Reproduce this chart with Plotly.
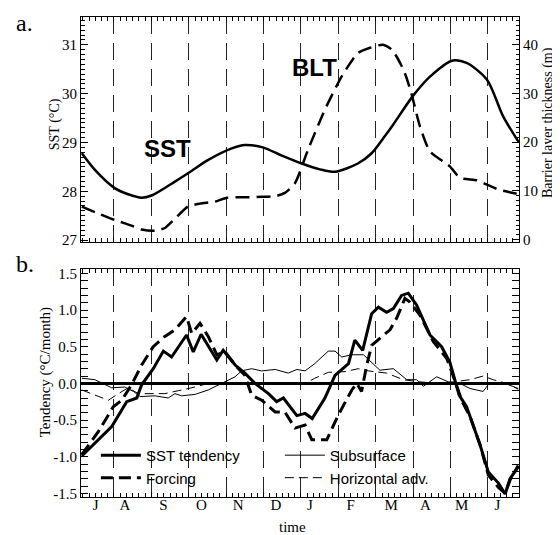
import plotly.graph_objects as go

# ---------------- data (x = months since 1 July; integers = month boundaries) -------------
month_bounds = [1, 2, 3, 4, 5, 6, 7, 8, 9, 10, 11]
month_label_pos = [0.51, 1.29, 2.32, 3.34, 4.32, 5.33, 6.24, 7.33, 8.41, 9.33, 10.30, 11.25]
month_labels = ["J", "A", "S", "O", "N", "D", "J", "F", "M", "A", "M", "J"]

# panel a: SST (degC)
sst_x = [0.14, 0.49, 1.03, 1.38, 1.74, 2.02, 2.63, 2.98, 3.51, 4.15, 4.50, 4.98, 5.49,
         6.02, 6.51, 6.91, 7.52, 7.89, 8.25, 8.46, 9.00, 9.45, 10.06, 10.43, 10.97, 11.41, 11.83]
sst = [28.78, 28.44, 28.06, 27.94, 27.87, 27.92, 28.20, 28.37, 28.64, 28.88, 28.95, 28.90, 28.73,
       28.57, 28.45, 28.40, 28.57, 28.78, 29.14, 29.36, 29.96, 30.35, 30.68, 30.63, 30.29, 29.53, 29.00]

# panel a: barrier layer thickness (m)
blt_x = [0.14, 0.63, 1.03, 1.43, 1.74, 2.10, 2.36, 2.63, 2.98, 3.30, 3.70, 4.02, 4.50, 4.96,
         5.35, 5.57, 5.84, 6.19, 6.64, 7.09, 7.52, 7.85, 8.19, 8.43, 8.65, 8.81, 8.96, 9.18,
         9.45, 9.98, 10.25, 10.70, 10.97, 11.32, 11.67, 11.83]
blt = [6.8, 5.2, 4.0, 3.0, 2.1, 1.85, 2.4, 4.3, 6.8, 7.4, 7.8, 8.6, 8.7, 8.8,
       9.0, 9.6, 11.6, 18.5, 26.7, 33.5, 38.3, 39.4, 40.0, 39.0, 36.3, 33.5, 29.8, 23.3,
       18.1, 15.05, 12.7, 12.2, 11.3, 10.2, 9.6, 9.3]

# panel b: tendency terms (degC/month)
tend_x = [0.14, 0.94, 1.34, 1.61, 1.74, 2.05, 2.32, 2.54, 2.94, 3.12, 3.33, 3.75, 3.92, 4.24,
          4.50, 4.77, 5.13, 5.35, 5.53, 5.89, 6.11, 6.30, 6.64, 6.91, 7.27, 7.44, 7.65, 7.89,
          8.07, 8.29, 8.47, 8.69, 8.87, 9.09, 9.45, 9.76, 9.98, 10.14, 10.23, 10.43, 10.79,
          11.01, 11.28, 11.46, 11.59, 11.81]
sst_tend = [-0.99, -0.59, -0.25, -0.20, -0.02, 0.20, 0.44, 0.36, 0.66, 0.43, 0.67, 0.32, 0.45, 0.25,
            0.14, 0.00, -0.14, -0.25, -0.20, -0.44, -0.41, -0.48, -0.20, 0.11, 0.27, 0.59, 0.45, 0.95,
            1.04, 0.97, 1.02, 1.20, 1.23, 1.07, 0.66, 0.50, 0.29, 0.00, -0.16, -0.32, -0.84,
            -1.21, -1.36, -1.51, -1.30, -1.14]

forc_x = [0.14, 0.58, 0.98, 1.21, 1.47, 1.74, 2.05, 2.36, 2.63, 2.94, 3.08, 3.30, 3.52, 3.75,
          3.97, 4.24, 4.50, 4.68, 4.95, 5.31, 5.57, 5.84, 6.11, 6.29, 6.69, 7.00, 7.36, 7.49,
          7.62, 7.76, 7.89, 8.25, 8.38, 8.56, 8.78, 8.91, 9.18, 9.54, 9.90, 10.14, 10.31, 10.52,
          10.79, 11.01, 11.28, 11.46, 11.59, 11.81]
forcing = [-0.97, -0.66, -0.32, -0.23, -0.02, 0.25, 0.50, 0.64, 0.73, 0.91, 0.68, 0.82, 0.64, 0.39,
           0.43, 0.25, 0.11, -0.16, -0.23, -0.39, -0.39, -0.61, -0.57, -0.77, -0.77, -0.43, -0.09, 0.00,
           -0.11, 0.25, 0.52, 0.68, 0.73, 0.89, 1.16, 1.11, 0.93, 0.57, 0.34, 0.00, -0.25, -0.45,
           -0.84, -1.25, -1.42, -1.50, -1.32, -1.12]

subs_x = [0.14, 0.49, 0.94, 1.29, 1.52, 1.70, 2.10, 2.45, 2.63, 2.81, 3.17, 3.52, 3.88, 4.24,
          4.41, 4.68, 4.95, 5.31, 5.66, 5.89, 6.11, 6.37, 6.73, 6.91, 7.09, 7.36, 7.67, 7.89,
          8.11, 8.47, 8.83, 9.09, 9.27, 9.63, 9.94, 10.25, 10.52, 10.87, 11.05, 11.41, 11.81]
subsurface = [0.07, 0.05, -0.06, -0.05, -0.11, -0.18, -0.17, -0.20, -0.14, -0.17, -0.15, -0.09, 0.00, 0.09,
              0.17, 0.20, 0.17, 0.19, 0.14, 0.19, 0.17, 0.27, 0.44, 0.44, 0.36, 0.39, 0.39, 0.29,
              0.18, 0.20, 0.05, 0.05, -0.04, 0.09, 0.02, 0.00, -0.07, -0.11, 0.01, 0.01, -0.07]

hadv_x = [0.14, 0.49, 0.85, 1.12, 1.38, 1.65, 1.92, 2.36, 2.72, 3.08, 3.52, 3.88, 4.41, 4.86,
          5.31, 6.11, 6.37, 6.73, 7.18, 7.53, 7.80, 8.29, 8.74, 9.18, 9.63, 10.07, 10.52, 10.87,
          11.14, 11.50, 11.81]
hadv = [-0.09, -0.16, -0.23, -0.14, -0.06, -0.14, -0.14, -0.14, -0.10, -0.06, 0.00, 0.01, 0.01, 0.00,
        -0.01, 0.00, 0.07, 0.15, 0.16, 0.20, 0.17, 0.14, 0.05, 0.02, 0.00, 0.02, 0.05, 0.10,
        0.05, 0.00, -0.08]

# ---------------- figure -------------
X_RANGE = [0.118, 11.83]
SERIF = "Liberation Serif, Times New Roman, serif"
SANS = "Liberation Sans, Arial, sans-serif"
tickfont = dict(family=SERIF, size=15, color="black")
GRID_DASH = "17px,9px"

fig = go.Figure()

fig.add_trace(go.Scatter(x=sst_x, y=sst, mode="lines", line=dict(color="black", width=2.5, shape="spline", smoothing=0.8),
                         xaxis="x", yaxis="y", showlegend=False, name="SST"))
fig.add_trace(go.Scatter(x=blt_x, y=blt, mode="lines", line=dict(color="black", width=2.5, dash="14px,7px", shape="spline", smoothing=0.6),
                         xaxis="x", yaxis="y3", showlegend=False, name="BLT"))

fig.add_trace(go.Scatter(x=tend_x, y=sst_tend, mode="lines", name="SST tendency", line=dict(color="black", width=3),
                         xaxis="x2", yaxis="y2", legend="legend"))
fig.add_trace(go.Scatter(x=forc_x, y=forcing, mode="lines", name="Forcing", line=dict(color="black", width=3, dash="12px,6px"),
                         xaxis="x2", yaxis="y2", legend="legend"))
fig.add_trace(go.Scatter(x=subs_x, y=subsurface, mode="lines", name="Subsurface", line=dict(color="black", width=1),
                         xaxis="x2", yaxis="y2", legend="legend2"))
fig.add_trace(go.Scatter(x=hadv_x, y=hadv, mode="lines", name="Horizontal adv.", line=dict(color="black", width=1, dash="9px,5px"),
                         xaxis="x2", yaxis="y2", legend="legend2"))
# carrier for the month-label axis
fig.add_trace(go.Scatter(x=month_label_pos, y=[None] * len(month_label_pos), mode="markers", marker=dict(opacity=0),
                         xaxis="x3", yaxis="y2", showlegend=False, hoverinfo="skip"))

bound_axis = dict(range=X_RANGE, tickvals=month_bounds, showticklabels=False, showgrid=True,
                  gridcolor="#222222", gridwidth=1, griddash=GRID_DASH, ticks="inside", ticklen=4,
                  tickcolor="black", minor=dict(dtick=1 / 6, tick0=0, ticks="inside", ticklen=4, tickcolor="black"),
                  showline=True, linecolor="black", linewidth=1, mirror="allticks", zeroline=False,
                  automargin=False)

title_font = dict(family=SERIF, size=14, color="black")

# page body has an 8px default margin: figure is 552x527 so the plot lands where the reference has it
fig.update_layout(
    width=552, height=527,
    margin=dict(l=73, r=41, t=9, b=38, autoexpand=False),
    font=dict(family=SERIF, color="black"),
    paper_bgcolor="white", plot_bgcolor="white",
    xaxis=dict(domain=[0, 1], anchor="y", **bound_axis),
    xaxis2=dict(domain=[0, 1], anchor="y2", **bound_axis),
    xaxis3=dict(overlaying="x2", anchor="y2", side="bottom", range=X_RANGE, tickvals=month_label_pos,
                ticktext=month_labels, ticks="", showgrid=False, showline=False, zeroline=False,
                automargin=False, ticklabelstandoff=-3, tickfont=tickfont),
    yaxis=dict(domain=[0.532, 1], anchor="x", range=[26.97, 31.57], tickvals=[27, 28, 29, 30, 31],
               ticks="inside", ticklen=7, tickcolor="black",
               minor=dict(dtick=0.1, ticks="inside", ticklen=3.5, tickcolor="black"),
               showline=True, linecolor="black", linewidth=1, showgrid=False, zeroline=False,
               automargin=False, tickfont=tickfont),
    yaxis3=dict(overlaying="y", anchor="x", side="right", range=[-0.4, 45.7], tickvals=[0, 10, 20, 30, 40],
                ticks="inside", ticklen=7, tickcolor="black",
                minor=dict(dtick=1, ticks="inside", ticklen=3.5, tickcolor="black"),
                showline=True, linecolor="black", linewidth=1, showgrid=False, zeroline=False,
                automargin=False, tickfont=tickfont),
    yaxis2=dict(domain=[0, 0.475], anchor="x2", range=[-1.55, 1.56],
                tickvals=[-1.5, -1.0, -0.5, 0.0, 0.5, 1.0, 1.5],
                ticktext=["-1.5", "-1.0", "-0.5", "0.0", "0.5", "1.0", "1.5"],
                ticks="inside", ticklen=7, tickcolor="black",
                minor=dict(dtick=0.1, ticks="inside", ticklen=3.5, tickcolor="black"),
                showline=True, linecolor="black", linewidth=1, mirror="allticks", showgrid=False,
                zeroline=True, zerolinecolor="black", zerolinewidth=2.5, automargin=False,
                tickfont=tickfont),
    legend=dict(x=0.034, y=0.121, xanchor="left", yanchor="top", bgcolor="rgba(0,0,0,0)", borderwidth=0,
                font=dict(family=SANS, size=15, color="black"), itemwidth=40, tracegroupgap=0),
    legend2=dict(x=0.454, y=0.121, xanchor="left", yanchor="top", bgcolor="rgba(0,0,0,0)", borderwidth=0,
                 font=dict(family=SANS, size=15, color="black"), itemwidth=40, tracegroupgap=0),
    annotations=[
        dict(text="<b>SST</b>", x=2.44, y=28.88, xref="x", yref="y", showarrow=False,
             font=dict(family=SANS, size=24, color="black")),
        dict(text="<b>BLT</b>", x=6.37, y=30.53, xref="x", yref="y", showarrow=False,
             font=dict(family=SANS, size=24, color="black")),
        dict(text="a.", x=-0.153, y=0.9875, xref="paper", yref="paper", xanchor="left", yanchor="middle",
             showarrow=False, font=dict(family=SERIF, size=24, color="black")),
        dict(text="b.", x=-0.153, y=0.485, xref="paper", yref="paper", xanchor="left", yanchor="middle",
             showarrow=False, font=dict(family=SERIF, size=24, color="black")),
        dict(text="SST (°C)", x=-0.059, y=0.777, xref="paper", yref="paper", textangle=-90,
             xanchor="center", yanchor="middle", showarrow=False, font=title_font),
        dict(text="Barrier layer thickness (m)", x=1.066, y=0.781, xref="paper", yref="paper", textangle=-90,
             xanchor="center", yanchor="middle", showarrow=False, font=title_font),
        dict(text="Tendency (°C/month)", x=-0.082, y=0.26, xref="paper", yref="paper", textangle=-90,
             xanchor="center", yanchor="middle", showarrow=False, font=dict(family=SERIF, size=15, color="black")),
        dict(text="time", x=0.482, y=-0.0625, xref="paper", yref="paper",
             xanchor="center", yanchor="middle", showarrow=False, font=dict(family=SERIF, size=15, color="black")),
    ],
)

fig.write_html("out.html")
